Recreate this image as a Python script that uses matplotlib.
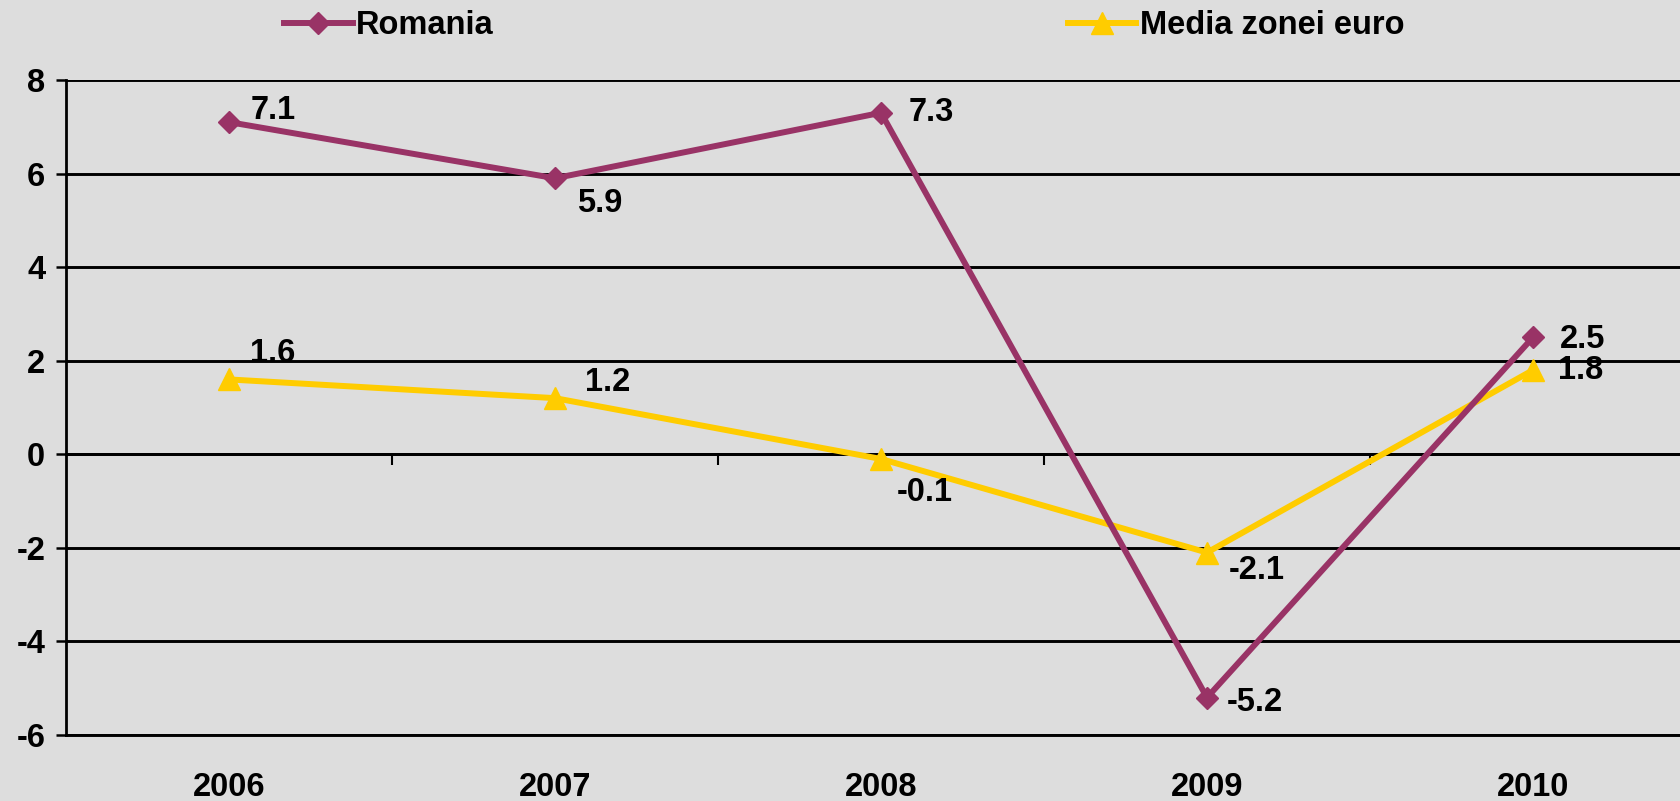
import numpy as np
import matplotlib.pyplot as plt

# Data
years = ['2006', '2007', '2008', '2009', '2010']
romania = [7.1, 5.9, 7.3, -5.2, 2.5]
euro = [1.6, 1.2, -0.1, -2.1, 1.8]

# label offsets in pixels (style only)
ro_off = [(22, 12), (22, -25), (28, 0), (20, -5), (27, -2)]
eu_off = [(21, 26), (30, 16), (16, -34), (22, -18), (25, 0)]

plt.rcParams['font.family'] = ['Liberation Sans', 'DejaVu Sans']
plt.rcParams['font.weight'] = 'bold'
plt.rcParams['axes.unicode_minus'] = False
fs = 23.5
bg = '#DDDDDD'
c_ro = '#993366'
c_eu = '#FFCC00'

fig = plt.figure(figsize=(16.81, 8.01), dpi=100, facecolor=bg)
ax = fig.add_axes([66/1681, 66/801, 1630/1681, 655/801], facecolor=bg)

x = np.arange(len(years))
ax.plot(x, romania, color=c_ro, lw=4.3, marker='D', ms=11, label='Romania', zorder=4)
ax.plot(x, euro, color=c_eu, lw=4.3, marker='^', ms=16, label='Media zonei euro', zorder=3)

for xi, v, off in zip(x, romania, ro_off):
    ax.annotate(f'{v:.1f}', (xi, v), xytext=off, textcoords='offset pixels',
                ha='left', va='center', fontsize=fs, fontweight='bold', zorder=5)
for xi, v, off in zip(x, euro, eu_off):
    ax.annotate(f'{v:.1f}', (xi, v), xytext=off, textcoords='offset pixels',
                ha='left', va='center', fontsize=fs, fontweight='bold', zorder=5)

ax.set_xlim(-0.5, 4.5)
ax.set_ylim(-6, 8)
ax.set_yticks(np.arange(-6, 9, 2))
ax.yaxis.grid(True, color='black', lw=2.1)
ax.set_axisbelow(True)
ax.tick_params(axis='y', direction='out', length=7, width=1.8, pad=8, labelsize=fs)
ax.set_xticks(x)
ax.set_xticklabels(years)
ax.tick_params(axis='x', length=0, pad=27, labelsize=fs)
for s in ['top', 'right']:
    ax.spines[s].set_visible(False)
ax.spines['left'].set_linewidth(2.0)
ax.spines['bottom'].set_linewidth(2.1)

# category axis drawn at y = 0
sec = ax.secondary_xaxis(6/14)
sec.set_xticks(x[:-1] + 0.5)
sec.set_xticklabels([])
sec.tick_params(direction='out', length=8, width=1.5)
sec.spines['bottom'].set_linewidth(2.1)

fig.legend(loc='center left', bbox_to_anchor=(284/1681, 1 - 26/801), ncol=2,
           frameon=False, handlelength=2.1, handletextpad=0.1,
           columnspacing=17.6, borderpad=0, borderaxespad=0,
           prop={'weight': 'bold', 'size': fs})

fig.savefig('out.png', dpi=100, facecolor=bg)
